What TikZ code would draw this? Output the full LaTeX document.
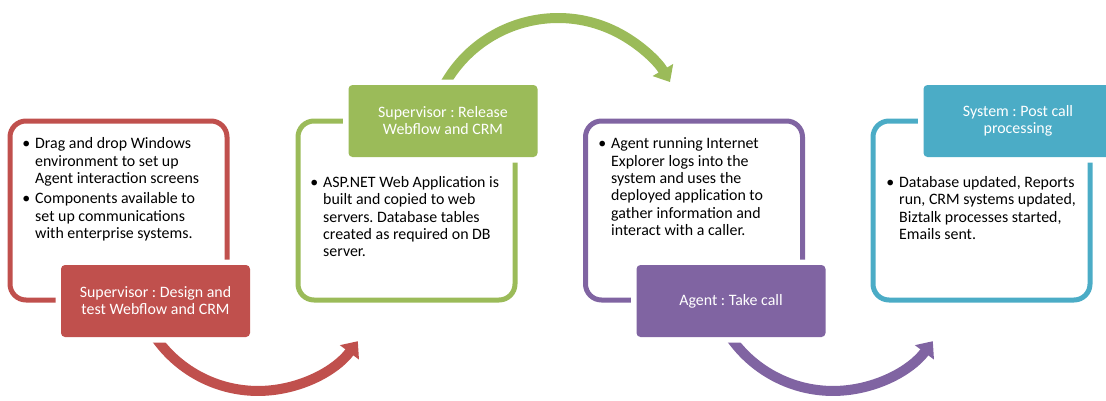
\documentclass[tikz,border=0pt]{standalone}
\usepackage{fontspec}
\setmainfont{Carlito}
\usetikzlibrary{arrows.meta}
\definecolor{cred}{HTML}{C0504D}
\definecolor{cgreen}{HTML}{9BBB59}
\definecolor{cpurple}{HTML}{8064A2}
\definecolor{ccyan}{HTML}{4BACC6}
\newcommand{\bul}{\llap{\textbullet\hspace{5pt}}}
\frenchspacing
\begin{document}
\begin{tikzpicture}[x=1pt,y=-1pt,
  frame/.style={draw=#1, line width=5pt, rounded corners=16pt, minimum width=217pt, minimum height=179pt, inner sep=0pt},
  stepbox/.style={fill=#1, rounded corners=4pt, minimum width=189pt, minimum height=72pt, inner sep=0pt,
     preaction={draw=white, line width=11pt, rounded corners=4pt}},
  steptext/.style={text=white, align=center, font=\fontsize{15.9}{17}\selectfont},
  body/.style={anchor=north west, inner sep=0pt, align=left, font=\fontsize{15.9}{17.4}\selectfont},
  flow/.style={draw=#1, line width=10pt, -{Triangle[width=23pt,length=14pt]}}]
\useasboundingbox (0,0) rectangle (1106,400);
\clip (0,0) rectangle (1106,400);
% outlined frames
\node[frame=cred]    (rframe) at (118.5,210.5) {};
\node[frame=cgreen]  (gframe) at (406.5,210.5) {};
\node[frame=cpurple] (pframe) at (694,210.5) {};
\node[frame=ccyan]   (cframe) at (981.5,210.5) {};
% curved arrows
\coordinate (rs) at (152.0,332.2);
\coordinate (gs) at (443.2,87.0);
\coordinate (ps) at (727.0,332.2);
\draw[flow=cred] (rs) arc[start angle=212, end angle=323, radius=125pt];
\draw[flow=cgreen] (gs) arc[start angle=152, end angle=30.5, radius=130pt];
\draw[flow=cpurple] (ps) arc[start angle=212, end angle=323, radius=125pt];
% filled step boxes
\node[stepbox=cred, steptext]    (rbox) at (155.5,301) {Supervisor : Design and\\test Webflow and CRM};
\node[stepbox=cgreen, steptext]  (gbox) at (443,121) {Supervisor : Release\\Webflow and CRM};
\node[stepbox=cpurple, steptext] (pbox) at (731,301) {Agent : Take call};
\node[stepbox=ccyan, steptext]   (cbox) at (1018,121) {System : Post call\\processing};
% body texts
\node[body] (rtext) at (35,137.5) {\bul Drag and drop Windows\\environment to set up\\Agent interaction screens\\[3pt]\bul Components available to\\set up communications\\with enterprise systems.};
\node[body] (gtext) at (323,176) {\bul ASP.NET Web Application is\\built and copied to web\\servers. Database tables\\created as required on DB\\server.};
\node[body] (ptext) at (611,137.5) {\bul Agent running Internet\\Explorer logs into the\\system and uses the\\deployed application to\\gather information and\\interact with a caller.};
\node[body] (ctext) at (899,176) {\bul Database updated, Reports\\run, CRM systems updated,\\Biztalk processes started,\\Emails sent.};
\end{tikzpicture}
\end{document}
